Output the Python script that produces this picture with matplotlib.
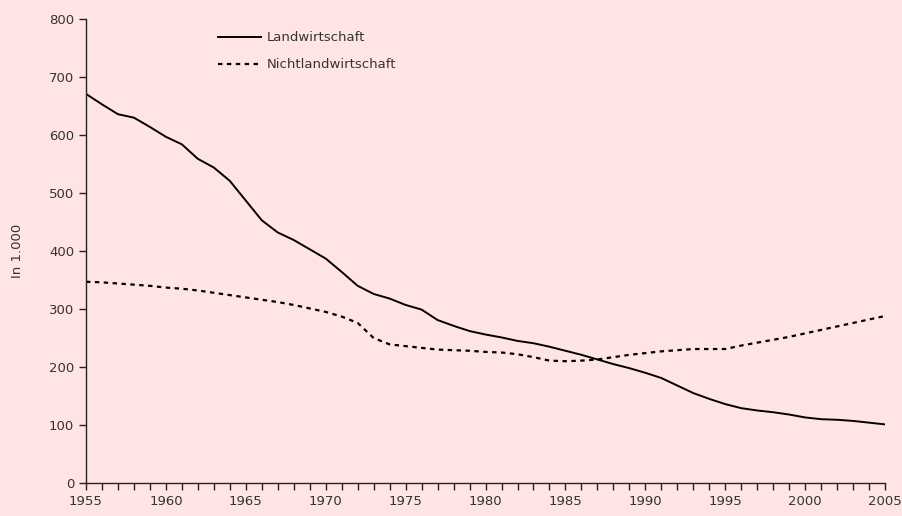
import matplotlib.pyplot as plt
from matplotlib.ticker import MultipleLocator

# data (in 1.000)
years = list(range(1955, 2006))
landwirtschaft = [
    671, 653, 636, 630, 614, 597, 584, 559, 544, 521,
    487, 453, 432, 419, 403, 387, 364, 340, 326, 318,
    307, 299, 281, 271, 262, 256, 251, 245, 241, 235,
    228, 221, 213, 205, 198, 190, 181, 168, 155, 145,
    136, 129, 125, 122, 118, 113, 110, 109, 107, 104,
    101,
]
nichtlandwirtschaft = [
    347, 346, 344, 342, 340, 337, 335, 332, 328, 324,
    320, 316, 312, 307, 301, 295, 287, 276, 250, 239,
    236, 233, 230, 229, 228, 226, 225, 222, 217, 211,
    210, 211, 213, 217, 221, 224, 227, 229, 231, 231,
    231, 237, 242, 247, 252, 258, 264, 270, 276, 282,
    288,
]
series_labels = ["Landwirtschaft", "Nichtlandwirtschaft"]

bg = "#FFE4E6"
text_col = "#333333"

plt.rcParams['font.family'] = ['DejaVu Sans']

fig = plt.figure(figsize=(9.03, 5.16), dpi=100, facecolor=bg)
ax = fig.add_axes([0.0952, 0.064, 0.885, 0.899])
ax.set_facecolor(bg)

ax.plot(years, landwirtschaft, color="black", lw=1.4, label=series_labels[0])
ax.plot(years, nichtlandwirtschaft, color="black", lw=1.6,
        linestyle=(0, (2, 2)), label=series_labels[1])

ax.set_xlim(1955, 2005)
ax.set_ylim(0, 800)
ax.xaxis.set_major_locator(MultipleLocator(5))
ax.xaxis.set_minor_locator(MultipleLocator(1))
ax.yaxis.set_major_locator(MultipleLocator(100))

for side in ("top", "right"):
    ax.spines[side].set_visible(False)
for side in ("left", "bottom"):
    ax.spines[side].set_color("#222222")
    ax.spines[side].set_linewidth(1.0)

ax.tick_params(axis='both', which='both', direction='out', length=5,
               width=1.0, color="#222222", labelsize=9.5, labelcolor=text_col)
ax.tick_params(axis='x', which='major', pad=4)

ax.set_ylabel("In 1.000", fontsize=9.5, color=text_col, labelpad=18)

ax.legend(loc='upper left', bbox_to_anchor=(0.228, 0.962), bbox_transform=fig.transFigure,
          frameon=False, fontsize=9.5, handlelength=3.3, handletextpad=0.4,
          labelspacing=1.05, labelcolor=text_col)

fig.savefig("out.png", dpi=100, facecolor=bg)
